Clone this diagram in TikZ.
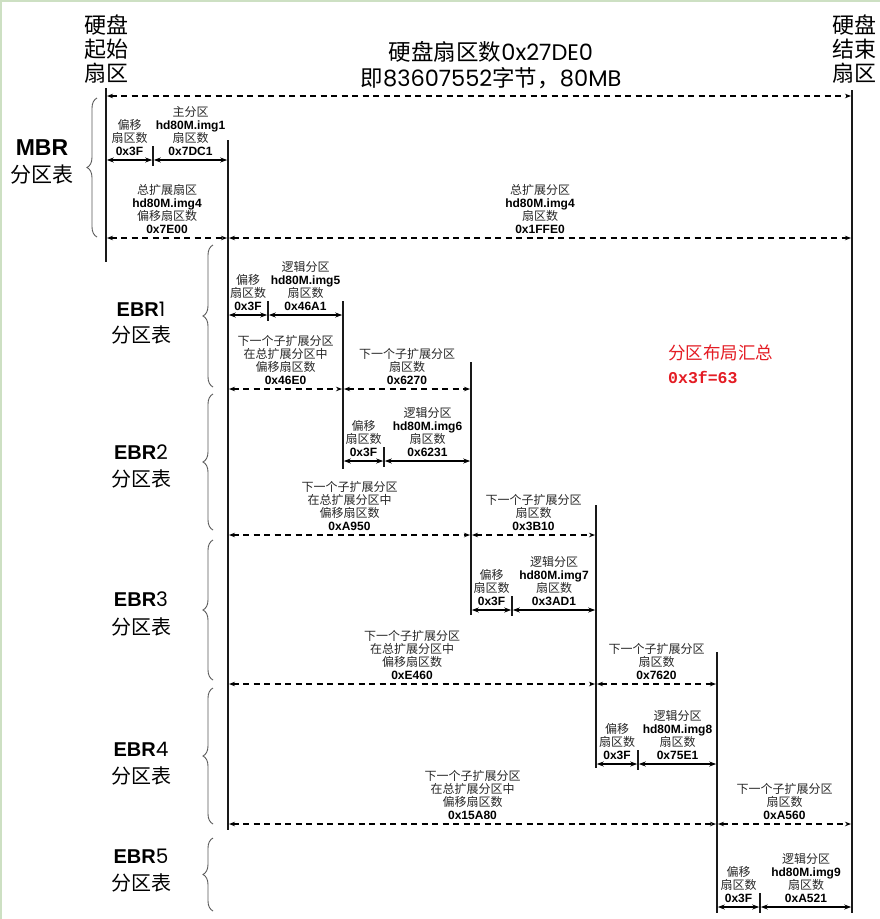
\documentclass[tikz,border=0pt]{standalone}
\usepackage{fontspec}
\setmainfont{Liberation Sans}
\newfontfamily\cjk{Noto Sans CJK SC}
\newfontfamily\geo{Poppins}
\newfontfamily\monob{Liberation Mono}
\usetikzlibrary{arrows.meta,decorations.pathreplacing}
\definecolor{bordergreen}{RGB}{205,224,195}
\definecolor{redtxt}{RGB}{228,28,36}
\definecolor{txtgray}{RGB}{40,40,40}
\definecolor{linec}{RGB}{25,25,25}
\definecolor{bracec}{RGB}{90,90,90}
\newcommand\zh[1]{{\cjk\color{txtgray}#1}}
\newcommand\myharrow[5]{\coordinate (#2a) at (#3,#5); \coordinate (#2b) at (#4,#5); \draw[#1] (#2a) -- (#2b);}
\newcommand\myvbar[5]{\coordinate (#2t) at (#3,#4); \coordinate (#2b) at (#3,#5); \draw[#1] (#2t) -- (#2b);}
\newcommand\mybrace[4]{\coordinate (#1b) at (#2,#4); \coordinate (#1t) at (#2,#3); \draw[brc] (#1b) -- (#1t);}
\begin{document}
\begin{tikzpicture}[x=1pt,y=-1pt,
 vline/.style={draw=linec,line width=1.5pt},
 tickline/.style={draw=linec,line width=1.2pt},
 sarr/.style={draw=black,line width=1.2pt,{Stealth[length=7pt,width=5pt]}-{Stealth[length=7pt,width=5pt]},shorten <=0.8pt,shorten >=0.8pt},
 darr/.style={draw=black,line width=1.1pt,dash pattern=on 6pt off 4.5pt,{Stealth[length=6pt,width=4.5pt]}-{Stealth[length=6pt,width=4.5pt]},shorten <=1pt,shorten >=1pt},
 lbl/.style={anchor=south,inner sep=0pt,align=center,font=\fontsize{12}{12.9}\selectfont},
 brc/.style={draw=bracec,line width=0.9pt,decorate,decoration={brace,amplitude=10pt}},
 big/.style={inner sep=0pt,align=center,font=\cjk\fontsize{22}{24}\selectfont},
 ebrt/.style={inner sep=0pt,font=\bfseries\fontsize{20}{20}\selectfont},
 tbl/.style={inner sep=0pt,font=\cjk\fontsize{20}{20}\selectfont},
]
\useasboundingbox (0,0) rectangle (880,919);
\fill[white] (0,0) rectangle (880,919);
\fill[bordergreen] (0,0) rectangle (880,2);
\fill[bordergreen] (0,0) rectangle (2,919);

% headings
\node[big] (startlbl) at (106,49) {硬盘\\起始\\扇区};
\node[big] (endlbl) at (854,49) {硬盘\\结束\\扇区};
\node[inner sep=0pt,align=center,font=\fontsize{22.5}{26}\selectfont] (title) at (491,65)
 {{\cjk 硬盘扇区数}{\geo 0x27DE0}\\{\cjk 即}{\geo 83607552}{\cjk 字节，}{\geo 80MB}};

% table labels
\node[inner sep=0pt,font=\bfseries\fontsize{23}{23}\selectfont] (mbr) at (42,148) {MBR};
\node[inner sep=0pt,font=\cjk\fontsize{21}{21}\selectfont] (mbrt) at (42,175) {分区表};
\node[ebrt] (e1) at (141,309) {EBR{\geo\mdseries 1}};
\node[tbl] (e1t) at (141,335) {分区表};
\node[ebrt] (e2) at (141,452) {EBR{\geo\mdseries 2}};
\node[tbl] (e2t) at (141,479) {分区表};
\node[ebrt] (e3) at (141,599) {EBR{\geo\mdseries 3}};
\node[tbl] (e3t) at (141,627) {分区表};
\node[ebrt] (e4) at (141,749) {EBR{\geo\mdseries 4}};
\node[tbl] (e4t) at (141,776) {分区表};
\node[ebrt] (e5) at (141,856) {EBR{\geo\mdseries 5}};
\node[tbl] (e5t) at (141,883) {分区表};

% braces
\mybrace{bm}{97}{98}{237}
\mybrace{b1}{213}{245}{387}
\mybrace{b2}{213}{394}{530}
\mybrace{b3}{213}{540}{680}
\mybrace{b4}{213}{688}{824}
\mybrace{b5}{213}{838}{911}

% vertical lines
\myvbar{vline}{v0}{106}{88}{262}
\myvbar{vline}{v1}{228}{140}{830}
\myvbar{vline}{v2}{343}{301}{469}
\myvbar{vline}{v3}{471}{362}{615}
\myvbar{vline}{v4}{596}{505}{768}
\myvbar{vline}{v5}{717}{652}{913}
\myvbar{vline}{v6}{852}{90}{913}
% ticks
\myvbar{tickline}{t0}{153}{146}{166}
\myvbar{tickline}{t1}{268}{301}{321}
\myvbar{tickline}{t2}{384}{447}{467}
\myvbar{tickline}{t3}{512}{596}{616}
\myvbar{tickline}{t4}{638}{750}{770}
\myvbar{tickline}{t5}{760}{893}{913}

% arrows
\myharrow{darr}{top}{106}{852}{96}
\myharrow{sarr}{ma}{106}{153}{160}
\myharrow{sarr}{mb}{153}{228}{160}
\myharrow{darr}{mc}{106}{228}{238}
\myharrow{darr}{md}{228}{852}{238}

\myharrow{sarr}{aa}{228}{268}{315}
\myharrow{sarr}{ab}{268}{343}{315}
\myharrow{darr}{ac}{228}{343}{389}
\myharrow{darr}{ad}{343}{471}{389}

\myharrow{sarr}{ba}{343}{384}{461}
\myharrow{sarr}{bb}{384}{471}{461}
\myharrow{darr}{bc}{228}{471}{535}
\myharrow{darr}{bd}{471}{596}{535}

\myharrow{sarr}{ca}{471}{512}{610}
\myharrow{sarr}{cb}{512}{596}{610}
\myharrow{darr}{cc}{228}{596}{684}
\myharrow{darr}{cd}{596}{717}{684}

\myharrow{sarr}{da}{596}{638}{764}
\myharrow{sarr}{db}{638}{717}{764}
\myharrow{darr}{dc}{228}{717}{824}
\myharrow{darr}{dd}{717}{852}{824}

\myharrow{sarr}{ea}{717}{760}{907}
\myharrow{sarr}{eb}{760}{852}{907}

% labels MBR
\node[lbl] (lma) at (129.5,155.5) {\zh{偏移}\\\zh{扇区数}\\\textbf{0x3F}};
\node[lbl] (lmb) at (190.5,155.5) {\zh{主分区}\\\textbf{hd80M.img1}\\\zh{扇区数}\\\textbf{0x7DC1}};
\node[lbl] (lmc) at (167,233.5) {\zh{总扩展扇区}\\\textbf{hd80M.img4}\\\zh{偏移扇区数}\\\textbf{0x7E00}};
\node[lbl] (lmd) at (540,233.5) {\zh{总扩展分区}\\\textbf{hd80M.img4}\\\zh{扇区数}\\\textbf{0x1FFE0}};
% EBR1
\node[lbl] (laa) at (248,310.5) {\zh{偏移}\\\zh{扇区数}\\\textbf{0x3F}};
\node[lbl] (lab) at (305.5,310.5) {\zh{逻辑分区}\\\textbf{hd80M.img5}\\\zh{扇区数}\\\textbf{0x46A1}};
\node[lbl] (lac) at (285.5,384.5) {\zh{下一个子扩展分区}\\\zh{在总扩展分区中}\\\zh{偏移扇区数}\\\textbf{0x46E0}};
\node[lbl] (lad) at (407,384.5) {\zh{下一个子扩展分区}\\\zh{扇区数}\\\textbf{0x6270}};
% EBR2
\node[lbl] (lba) at (363.5,456.5) {\zh{偏移}\\\zh{扇区数}\\\textbf{0x3F}};
\node[lbl] (lbb) at (427.5,456.5) {\zh{逻辑分区}\\\textbf{hd80M.img6}\\\zh{扇区数}\\\textbf{0x6231}};
\node[lbl] (lbc) at (349.5,530.5) {\zh{下一个子扩展分区}\\\zh{在总扩展分区中}\\\zh{偏移扇区数}\\\textbf{0xA950}};
\node[lbl] (lbd) at (533.5,530.5) {\zh{下一个子扩展分区}\\\zh{扇区数}\\\textbf{0x3B10}};
% EBR3
\node[lbl] (lca) at (491.5,605.5) {\zh{偏移}\\\zh{扇区数}\\\textbf{0x3F}};
\node[lbl] (lcb) at (554,605.5) {\zh{逻辑分区}\\\textbf{hd80M.img7}\\\zh{扇区数}\\\textbf{0x3AD1}};
\node[lbl] (lcc) at (412,679.5) {\zh{下一个子扩展分区}\\\zh{在总扩展分区中}\\\zh{偏移扇区数}\\\textbf{0xE460}};
\node[lbl] (lcd) at (656.5,679.5) {\zh{下一个子扩展分区}\\\zh{扇区数}\\\textbf{0x7620}};
% EBR4
\node[lbl] (lda) at (617,759.5) {\zh{偏移}\\\zh{扇区数}\\\textbf{0x3F}};
\node[lbl] (ldb) at (677.5,759.5) {\zh{逻辑分区}\\\textbf{hd80M.img8}\\\zh{扇区数}\\\textbf{0x75E1}};
\node[lbl] (ldc) at (472.5,819.5) {\zh{下一个子扩展分区}\\\zh{在总扩展分区中}\\\zh{偏移扇区数}\\\textbf{0x15A80}};
\node[lbl] (ldd) at (784.5,819.5) {\zh{下一个子扩展分区}\\\zh{扇区数}\\\textbf{0xA560}};
% EBR5
\node[lbl] (lea) at (738.5,902.5) {\zh{偏移}\\\zh{扇区数}\\\textbf{0x3F}};
\node[lbl] (leb) at (806,902.5) {\zh{逻辑分区}\\\textbf{hd80M.img9}\\\zh{扇区数}\\\textbf{0xA521}};

% summary
\node[anchor=west,inner sep=0pt,text=redtxt,font=\cjk\fontsize{17.5}{17.5}\selectfont] (sum1) at (668,353) {分区布局汇总};
\node[anchor=west,inner sep=0pt,text=redtxt,font=\monob\bfseries\fontsize{16.5}{16.5}\selectfont] (sum2) at (668,377) {0x3f=63};
\end{tikzpicture}
\end{document}
